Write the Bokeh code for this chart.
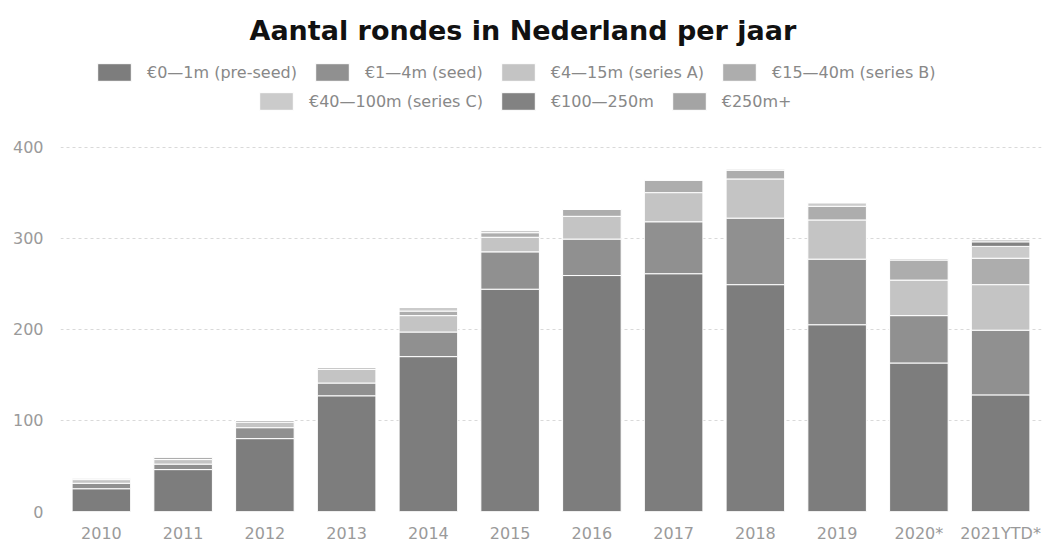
from bokeh.plotting import figure
from bokeh.models import (Legend, LegendItem, ColumnDataSource, Range1d,
                          FactorRange, FixedTicker)
from bokeh.embed import file_html
from bokeh.resources import INLINE

# ---- data ----
years = ["2010", "2011", "2012", "2013", "2014", "2015", "2016", "2017",
         "2018", "2019", "2020*", "2021YTD*"]
preseed = [25, 46, 80, 127, 170, 244, 259, 261, 249, 205, 163, 128]
seed = [6, 6, 12, 14, 27, 41, 40, 57, 73, 72, 52, 71]
series_a = [4, 5, 6, 15, 18, 16, 25, 32, 43, 43, 39, 50]
series_b = [2, 3, 2, 2, 5, 5, 8, 14, 10, 15, 22, 29]
series_c = [0, 0, 0, 0, 4, 3, 0, 0, 0, 4, 2, 13]
m100_250 = [0, 0, 0, 0, 0, 0, 0, 0, 0, 0, 0, 5]
m250plus = [0, 0, 0, 0, 0, 0, 0, 0, 1, 0, 0, 2]

labels = ["€0—1m (pre-seed)", "€1—4m (seed)", "€4—15m (series A)",
          "€15—40m (series B)", "€40—100m (series C)", "€100—250m", "€250m+"]
keys = ["preseed", "seed", "a", "b", "c", "m100", "m250"]
colors = ["#7d7d7d", "#909090", "#c4c4c4", "#adadad", "#cbcbcb", "#828282", "#a4a4a4"]
yticks = [0, 100, 200, 300, 400]

src = ColumnDataSource(dict(year=years, preseed=preseed, seed=seed, a=series_a,
                            b=series_b, c=series_c, m100=m100_250, m250=m250plus))

# frame spans from below the title to the zero line; the space above 400
# holds the legend rows
p = figure(x_range=FactorRange(*years, range_padding=0),
           y_range=Range1d(0, 506),
           width=1042, height=545, output_backend="svg", toolbar_location=None,
           min_border_left=60, min_border_right=1, min_border_bottom=33,
           min_border_top=50)

rs = p.vbar_stack(keys, x="year", width=0.716, color=colors, source=src,
                  line_color="white", line_width=1)

p.title.text = "Aantal rondes in Nederland per jaar"
p.title.align = "left"
p.title.offset = 189
p.title.text_font = "DejaVu Sans"
p.title.text_font_size = "27px"
p.title.text_font_style = "bold"
p.title.text_color = "#111111"

def make_legend(idx, loc):
    return Legend(items=[LegendItem(label=labels[i], renderers=[rs[i]]) for i in idx],
                  orientation="horizontal", location=loc,
                  border_line_color=None, background_fill_alpha=0,
                  label_text_font="DejaVu Sans", label_text_font_size="16px",
                  label_text_color="#888888", glyph_width=42, glyph_height=22,
                  label_height=22, label_standoff=12, spacing=14, padding=0,
                  margin=0)

p.add_layout(make_legend([0, 1, 2, 3], (33, 428)))
p.add_layout(make_legend([4, 5, 6], (195, 399)))

p.xgrid.grid_line_color = None
p.ygrid.grid_line_color = "#d9d9d9"
p.ygrid.grid_line_dash = "3 3"
p.ygrid.ticker = FixedTicker(ticks=yticks)
p.yaxis.ticker = FixedTicker(ticks=yticks)
p.outline_line_color = None

for ax in (p.xaxis, p.yaxis):
    ax.axis_line_color = None
    ax.major_tick_line_color = None
    ax.minor_tick_line_color = None
    ax.major_tick_out = 0
    ax.major_tick_in = 0
    ax.major_label_text_font = "DejaVu Sans"
    ax.major_label_text_font_size = "16px"
    ax.major_label_text_color = "#9a9a9a"
p.yaxis.major_label_standoff = 17
p.xaxis.major_label_standoff = 12

open("out.html", "w").write(file_html(p, INLINE))
